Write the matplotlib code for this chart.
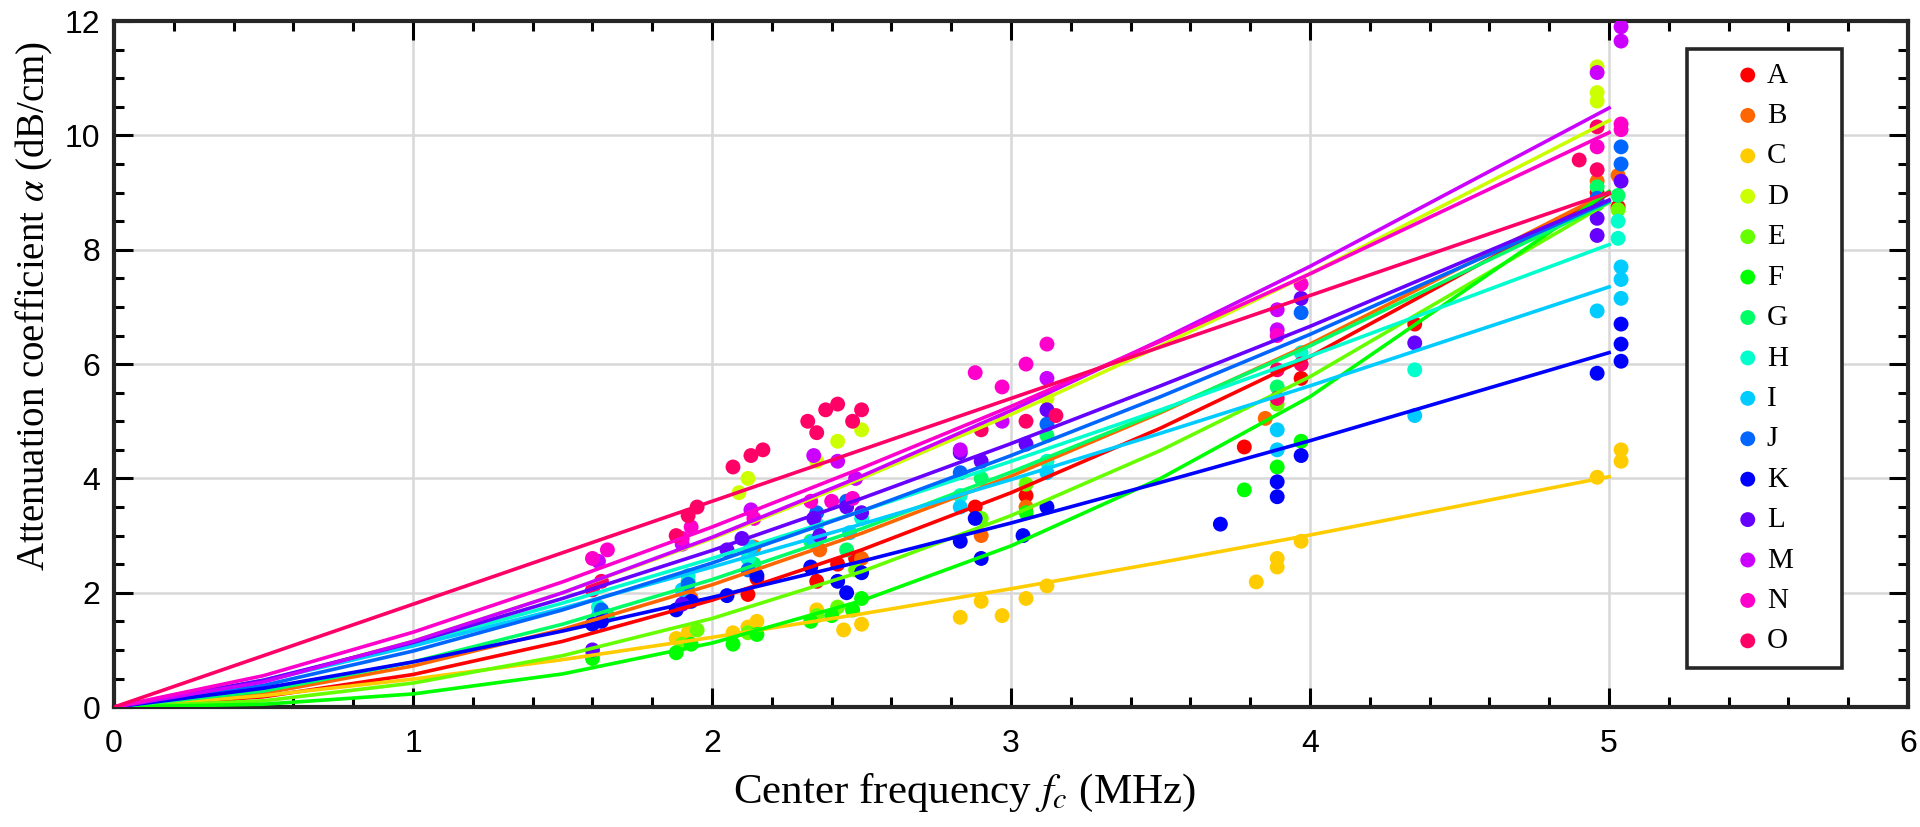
import colorsys
import numpy as np
import matplotlib
matplotlib.use('Agg')
import matplotlib.pyplot as plt
from matplotlib.patches import Rectangle
from matplotlib.ticker import MultipleLocator

# sample names
names = ['A', 'B', 'C', 'D', 'E', 'F', 'G', 'H', 'I', 'J', 'K', 'L', 'M', 'N', 'O']

# measured attenuation (center frequency in MHz, alpha in dB/cm)
f_A = [1.92, 2.12, 2.15, 2.35, 2.42, 2.48, 2.88, 3.05, 3.78, 3.97, 4.35, 4.96, 5.03]
a_A = [1.85, 1.97, 2.25, 2.2, 2.5, 2.6, 3.5, 3.7, 4.55, 5.75, 6.7, 9.0, 8.75]
f_B = [1.93, 2.14, 2.36, 2.45, 2.5, 2.9, 3.05, 3.85, 4.96, 5.03]
a_B = [1.9, 2.8, 2.75, 3.6, 2.6, 3.0, 3.5, 5.05, 9.2, 9.3]
f_C = [1.6, 1.88, 1.92, 2.07, 2.12, 2.15, 2.35, 2.44, 2.47, 2.5, 2.83, 2.9, 2.97,
       3.05, 3.12, 3.82, 3.89, 3.89, 3.97, 4.96, 5.04, 5.04]
a_C = [0.95, 1.2, 1.3, 1.3, 1.4, 1.5, 1.7, 1.35, 1.7, 1.45, 1.57, 1.85, 1.6,
       1.9, 2.12, 2.19, 2.45, 2.6, 2.9, 4.02, 4.3, 4.5]
f_D = [2.09, 2.12, 2.35, 2.42, 2.5, 3.12, 4.96, 4.96, 4.96]
a_D = [3.75, 4.0, 4.3, 4.65, 4.85, 5.4, 10.6, 10.75, 11.2]
f_E = [1.9, 1.95, 2.12, 2.35, 2.42, 2.48, 2.9, 3.05, 3.89, 5.03]
a_E = [1.1, 1.35, 1.3, 1.6, 1.75, 2.4, 3.3, 3.9, 5.3, 8.7]
f_F = [1.6, 1.88, 1.93, 2.07, 2.15, 2.33, 2.4, 2.47, 2.5, 3.05, 3.78, 3.89, 3.97, 4.96]
a_F = [0.85, 0.95, 1.1, 1.1, 1.27, 1.5, 1.6, 1.7, 1.9, 3.4, 3.8, 4.2, 4.65, 8.8]
f_G = [1.65, 1.92, 2.14, 2.33, 2.45, 2.9, 3.12, 3.89, 4.96, 5.03]
a_G = [1.6, 2.2, 2.5, 2.9, 2.75, 4.0, 4.75, 5.6, 9.1, 8.95]
f_H = [1.62, 1.92, 2.12, 2.35, 2.5, 2.83, 3.12, 3.97, 4.35, 5.03, 5.03]
a_H = [1.75, 2.3, 2.6, 3.2, 3.3, 3.7, 4.3, 6.2, 5.9, 8.5, 8.2]
f_I = [1.62, 1.9, 2.13, 2.34, 2.46, 2.83, 3.12, 3.89, 3.89, 4.35, 4.96, 5.04, 5.04, 5.04]
a_I = [1.6, 2.05, 2.8, 2.9, 3.05, 3.5, 4.1, 4.85, 4.5, 5.1, 6.93, 7.7, 7.48, 7.15]
f_J = [1.63, 1.92, 2.12, 2.35, 2.45, 2.83, 3.12, 3.97, 4.96, 5.04, 5.04]
a_J = [1.7, 2.15, 2.4, 3.4, 3.6, 4.1, 4.95, 6.9, 8.9, 9.8, 9.5]
f_K = [1.6, 1.63, 1.88, 1.93, 2.05, 2.15, 2.33, 2.42, 2.45, 2.5, 2.83, 2.88, 2.9,
       3.04, 3.12, 3.7, 3.89, 3.89, 3.97, 4.96, 5.04, 5.04, 5.04]
a_K = [1.45, 1.5, 1.7, 1.85, 1.95, 2.3, 2.45, 2.2, 2.0, 2.35, 2.9, 3.3, 2.6,
       3.0, 3.5, 3.2, 3.94, 3.68, 4.4, 5.84, 6.05, 6.35, 6.7]
f_L = [1.6, 1.9, 2.05, 2.1, 2.34, 2.36, 2.45, 2.5, 2.83, 2.9, 3.05, 3.12, 3.97,
       4.35, 4.96, 4.96, 5.04]
a_L = [1.0, 1.8, 2.75, 2.95, 3.3, 3.0, 3.5, 3.4, 4.45, 4.3, 4.6, 5.2, 7.15,
       6.37, 8.55, 8.25, 9.2]
f_M = [1.62, 1.9, 2.13, 2.34, 2.42, 2.48, 2.83, 2.97, 3.12, 3.89, 3.89, 4.96, 5.04, 5.04]
a_M = [2.55, 2.85, 3.45, 4.4, 4.3, 4.0, 4.5, 5.0, 5.75, 6.95, 6.6, 11.1, 11.65, 11.9]
f_N = [1.6, 1.65, 1.9, 1.93, 2.14, 2.33, 2.4, 2.47, 2.88, 2.97, 3.05, 3.12, 3.89,
       3.97, 4.96, 5.04, 5.04]
a_N = [2.6, 2.75, 2.95, 3.15, 3.3, 3.6, 3.6, 3.65, 5.85, 5.6, 6.0, 6.35, 6.5,
       7.4, 9.8, 10.2, 10.1]
f_O = [1.6, 1.63, 1.88, 1.92, 1.95, 2.07, 2.13, 2.17, 2.32, 2.35, 2.38, 2.42, 2.47,
       2.5, 2.9, 3.05, 3.15, 3.89, 3.89, 3.97, 4.9, 4.96, 4.96]
a_O = [2.05, 2.2, 3.0, 3.35, 3.5, 4.2, 4.4, 4.5, 5.0, 4.8, 5.2, 5.3, 5.0,
       5.2, 4.85, 5.0, 5.1, 5.9, 5.4, 6.0, 9.57, 10.15, 9.4]

# fitted curves
fit_f = [0, 0.5, 1, 1.5, 2, 2.5, 3, 3.5, 4, 5]
fit_A = [0, 0.18, 0.57, 1.15, 1.87, 2.75, 3.75, 4.88, 6.13, 8.98]
fit_B = [0, 0.24, 0.72, 1.36, 2.14, 3.04, 4.04, 5.15, 6.35, 9.01]
fit_C = [0, 0.20, 0.49, 0.83, 1.22, 1.63, 2.07, 2.53, 3.01, 4.03]
fit_D = [0, 0.45, 1.15, 2.00, 2.95, 4.00, 5.12, 6.32, 7.58, 10.26]
fit_E = [0, 0.11, 0.42, 0.90, 1.55, 2.37, 3.35, 4.49, 5.78, 8.83]
fit_F = [0, 0.05, 0.23, 0.58, 1.12, 1.86, 2.82, 4.00, 5.43, 9.02]
fit_G = [0, 0.28, 0.79, 1.45, 2.23, 3.12, 4.11, 5.17, 6.32, 8.83]
fit_H = [0, 0.47, 1.10, 1.82, 2.60, 3.43, 4.30, 5.20, 6.14, 8.09]
fit_I = [0, 0.46, 1.07, 1.73, 2.45, 3.20, 3.98, 4.79, 5.62, 7.35]
fit_J = [0, 0.38, 0.98, 1.70, 2.52, 3.43, 4.40, 5.43, 6.52, 8.85]
fit_K = [0, 0.33, 0.79, 1.33, 1.92, 2.55, 3.22, 3.93, 4.66, 6.20]
fit_L = [0, 0.47, 1.13, 1.90, 2.74, 3.65, 4.61, 5.62, 6.66, 8.87]
fit_M = [0, 0.44, 1.15, 2.00, 2.97, 4.04, 5.19, 6.42, 7.71, 10.48]
fit_N = [0, 0.55, 1.31, 2.19, 3.15, 4.18, 5.26, 6.40, 7.58, 10.05]
fit_O = [0, 0.9, 1.8, 2.7, 3.6, 4.5, 5.4, 6.3, 7.2, 9.0]

freqs = [f_A, f_B, f_C, f_D, f_E, f_F, f_G, f_H, f_I, f_J, f_K, f_L, f_M, f_N, f_O]
alphas = [a_A, a_B, a_C, a_D, a_E, a_F, a_G, a_H, a_I, a_J, a_K, a_L, a_M, a_N, a_O]
fits = [fit_A, fit_B, fit_C, fit_D, fit_E, fit_F, fit_G, fit_H, fit_I, fit_J,
        fit_K, fit_L, fit_M, fit_N, fit_O]

# hsv(15) colours like matlab
colors = [colorsys.hsv_to_rgb(i / 15, 1, 1) for i in range(15)]

plt.rcParams['mathtext.fontset'] = 'stix'

fig = plt.figure(figsize=(19.2, 8.27), dpi=100)
ax = fig.add_axes([0.0594, 0.145, 0.9344, 0.8295])

handles = []
for i in range(15):
    h = ax.scatter(freqs[i], alphas[i], s=115, color=colors[i], edgecolors='none', zorder=3)
    handles.append(h)
for i in range(15):
    ax.plot(fit_f, fits[i], color=colors[i], lw=2.6, zorder=4)

ax.set_xlim(0, 6)
ax.set_ylim(0, 12)
ax.xaxis.set_major_locator(MultipleLocator(1))
ax.xaxis.set_minor_locator(MultipleLocator(0.2))
ax.yaxis.set_major_locator(MultipleLocator(2))
ax.yaxis.set_minor_locator(MultipleLocator(0.5))
ax.grid(True, which='major', color='#d8d8d8', lw=1.8, zorder=0)
ax.set_axisbelow(True)

ax.tick_params(which='both', direction='in', top=True, right=True, width=2.2,
               labelsize=23)
ax.tick_params(axis='x', pad=16)
ax.tick_params(axis='y', pad=10)
ax.tick_params(which='major', length=14)
ax.tick_params(which='minor', length=7)
for lab in ax.get_xticklabels() + ax.get_yticklabels():
    lab.set_fontfamily('Liberation Sans')
for sp in ax.spines.values():
    sp.set_linewidth(3)
    sp.set_color('#262626')

ax.set_xlabel('Center frequency $f_c$ (MHz)', fontsize=31, family='Liberation Serif')
ax.set_ylabel('Attenuation coefficient $\\alpha$ (dB/cm)', fontsize=28,
              family='Liberation Serif')
ax.xaxis.set_label_coords(0.474, -0.095)
ax.yaxis.set_label_coords(-0.033, 0.585)

# legend box
box = Rectangle((0.877, 0.057), 0.086, 0.902, transform=ax.transAxes, facecolor='white',
                edgecolor='#262626', lw=2.6, zorder=5)
ax.add_patch(box)
leg = ax.legend(handles, names, loc='upper left', bbox_to_anchor=(0.9025, 0.940),
                frameon=False, borderpad=0, borderaxespad=0, handlelength=1.0,
                handletextpad=0.15, labelspacing=0.48,
                prop={'family': 'Liberation Serif', 'size': 21})
leg.set_zorder(6)

fig.savefig('out.png', dpi=100)
